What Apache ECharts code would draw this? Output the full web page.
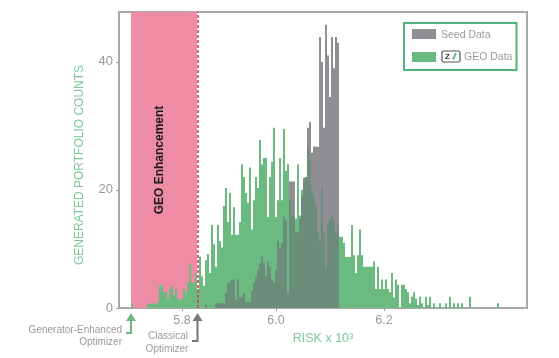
<!DOCTYPE html>
<html><head><meta charset="utf-8">
<style>html,body{margin:0;padding:0;background:#fff}#c{width:559px;height:358px;filter:blur(0.45px)}</style>
<script src="https://cdn.jsdelivr.net/npm/echarts@6/dist/echarts.min.js"></script>
</head><body><div id="c"></div>
<script>
// Histogram bins
const binCount = 204;
const firstGeoBin = 6;   // first occupied bin of GEO data
const firstSeedBin = 43; // first occupied bin of seed data
const enhancementBins = [6, 38]; // first and last bin of the shaded GEO Enhancement band
const classicalBin = '39';
const xTickLabels = {31:'5.8', 78:'6.0', 132:'6.2'};
const yAxisFloor = 1.55; // position of the axis line labelled 0
const yAxisTop = 47.8;
const yTickValues = [1.55, 20, 40];
const geoCounts = [
2.3,0,0,0,0,0,0,0,2.2,2.2,2.2,2.2,2.2,2.4,5,5.2,4,4,3,4.5,5,3.5,4.5,3,2.8,3,4.5,4,5.5,8.5,5.5,5.5,7,4.5,9.6,6.5,
5,9,10,7,14.5,11.5,8,14.5,12,11,17.5,20.3,15,19.5,13,17.3,13,13,15,24,22,19.5,18,23.5,13.8,18.4,22,20.3,27.8,24,25,25,
15.8,22,24.4,29.7,15.8,18.4,25,18.4,29.5,23,24,18.5,16,16,15.5,24,16,20,21.5,22,26.6,24.7,20,19,17.6,13.4,11.9,20.3,
13.4,7.8,15,15.5,16,15,13.4,14.5,12.7,12.7,11.7,9.5,9.5,9.5,14.5,9.8,7,9.8,13.8,9.8,8,8,8,8,8,8.8,4.5,8,4.5,6,4.5,6,
4.5,4,7,3.2,6,5.2,0,5.2,5.2,4.5,4,2.3,3.3,4,3,2,3.3,2.3,0,3.3,2,3.3,0,2.3,0,0,2.3,0,0,2.3,0,3.3,0,2.3,0,2.3,0,2.3,
0,0,0,3.3,0,0,0,0,0,0,0,0,0,0,0,0,0,2.3];
const seedCounts = [
2.1,0,0,0,0,2.3,2.3,2.3,2.3,2.3,3.9,5.5,5.5,6,6,2.8,6,3.2,3.3,3.9,2.5,2.5,2.5,4.3,5.5,6.4,7.5,8.6,9.6,8.6,6.5,8.8,8,6,
5.5,7.5,12,10.8,11.7,15.8,15.3,4,21.3,21.3,21.3,13.4,13.4,15.5,19,21.9,22,29.7,30.6,25.8,26.8,26.8,26.7,43.9,40,29.7,
45.8,41,34.5,43.9,39,43.9,43];

const categories = Array.from({length: binCount}, (_, i) => String(i));
const place = (arr, first) => categories.map((_, i) => (i >= first && i - first < arr.length) ? arr[i - first] : 0);
const geo = place(geoCounts, firstGeoBin);
const seed = place(seedCounts, firstSeedBin);
const overlap = geo.map((v, i) => Math.min(v, seed[i]));
const band = categories.map((_, i) => (i >= enhancementBins[0] && i <= enhancementBins[1]) ? yAxisTop : 0);
const pick = i => xTickLabels[i] !== undefined;

const GREY='#9a9a9a', GREEN='#6bbb80', SEED='#8f8f93', BOTH='#6c8c7c', NAME='#7cc699', FONT='"Liberation Sans",Arial,sans-serif';
const txt=(x,y,t,o={})=>({type:'text',x,y,z:100,silent:true,style:Object.assign({text:t,fill:GREY,font:'10px '+FONT,textAlign:'left',textVerticalAlign:'middle'},o)});
const arrow=(pts,c)=>({type:'polyline',z:100,shape:{points:pts},style:{stroke:c,lineWidth:2,fill:null}});
const head=(x,y,c)=>({type:'polygon',z:100,shape:{points:[[x,y],[x-5,y+8],[x+5,y+8]]},style:{fill:c}});

const chart = echarts.init(document.getElementById('c'), null, {renderer:'canvas'});
chart.setOption({
  animation:false,
  textStyle:{fontFamily:FONT},
  grid:{left:119,top:12,width:408,height:296,show:true,borderColor:'#a8a8a8',borderWidth:2,backgroundColor:'#fff'},
  xAxis:{type:'category',data:categories,
    name:'RISK x 10³',nameLocation:'middle',nameGap:24,nameTextStyle:{color:NAME,fontSize:12.5,fontFamily:FONT},
    axisLine:{show:false},
    axisTick:{show:true,alignWithLabel:true,length:3,lineStyle:{color:'#999'},interval:i=>pick(i)},
    axisLabel:{interval:i=>pick(i),formatter:v=>xTickLabels[v]||'',color:GREY,fontSize:12.5,margin:6,hideOverlap:false}},
  yAxis:{type:'value',min:yAxisFloor,max:yAxisTop,splitLine:{show:false},
    name:'GENERATED PORTFOLIO COUNTS',nameLocation:'middle',nameGap:33,nameTextStyle:{color:NAME,fontSize:12,fontFamily:FONT,padding:[0,10,0,0]},
    axisLine:{show:false},
    axisTick:{show:true,length:3,lineStyle:{color:'#999'},customValues:yTickValues},
    axisLabel:{customValues:yTickValues,formatter:v=>v===yAxisFloor?'0':String(v),color:GREY,fontSize:13,margin:6}},
  series:[
    {name:'GEO Enhancement',type:'bar',data:band,barWidth:2,barGap:'-100%',itemStyle:{color:'#ee8ca6'},
      markLine:{silent:true,symbol:'none',label:{show:false},lineStyle:{color:'#e0395f',type:[3,2],width:1.6},data:[{xAxis:classicalBin}]}},
    {name:'Seed Data',type:'bar',data:seed,barWidth:2,barGap:'-100%',itemStyle:{color:SEED}},
    {name:'GEO Data',type:'bar',data:geo,barWidth:2,barGap:'-100%',itemStyle:{color:GREEN}},
    {name:'Overlap',type:'bar',data:overlap,barWidth:2,barGap:'-100%',itemStyle:{color:BOTH}}
  ],
  graphic:{elements:[
    {type:'rect',z:100,shape:{x:404,y:23,width:112.5,height:47},style:{fill:'#fff',stroke:'#4fb37a',lineWidth:2}},
    {type:'rect',z:100,shape:{x:412,y:29,width:24,height:10},style:{fill:SEED}},
    {type:'rect',z:100,shape:{x:412,y:52,width:24,height:10},style:{fill:GREEN}},
    txt(441,35,'Seed Data',{font:'10.5px '+FONT}),
    {type:'rect',z:100,shape:{x:442,y:51,width:18,height:11,r:1.5},style:{fill:'#fff',stroke:'#555',lineWidth:1.2}},
    txt(445,56.5,'Z',{font:'bold 8px '+FONT,fill:'#333'}),
    {type:'line',z:100,shape:{x1:453,y1:59.5,x2:456,y2:53},style:{stroke:GREEN,lineWidth:2}},
    txt(464,57,'GEO Data',{font:'10.5px '+FONT}),
    {type:'text',z:100,x:160,y:160,rotation:Math.PI/2,silent:true,style:{text:'GEO Enhancement',fill:'#1a1a1a',font:'bold 12px '+FONT,textAlign:'center',textVerticalAlign:'middle'}},
    head(131,313,GREEN),arrow([[131,320],[131,333],[126,333]],GREEN),
    head(197.5,313,'#777'),arrow([[197.5,320],[197.5,341],[192,341]],'#777'),
    txt(122,330,'Generator-Enhanced',{textAlign:'right'}),
    txt(122,342,'Optimizer',{textAlign:'right'}),
    txt(168,336,'Classical',{textAlign:'center'}),
    txt(167,349,'Optimizer',{textAlign:'center'})
  ]}
});
</script></body></html>
